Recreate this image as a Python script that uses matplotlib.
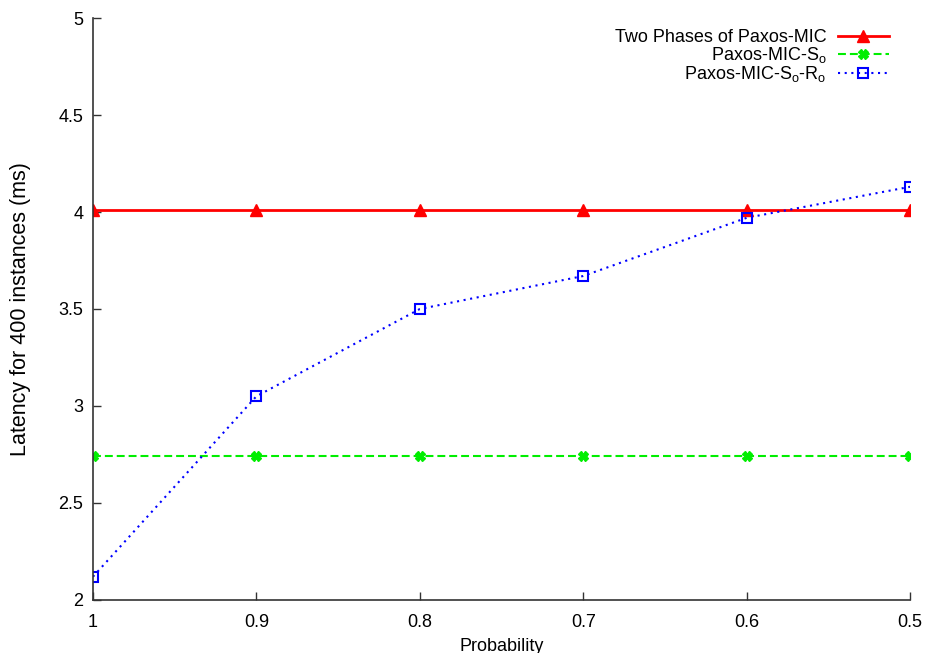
import matplotlib
matplotlib.use("Agg")
import matplotlib.pyplot as plt

plt.rcParams['font.family'] = ['Liberation Sans', 'DejaVu Sans']

prob = [1.0, 0.9, 0.8, 0.7, 0.6, 0.5]
two_phases = [4.01, 4.01, 4.01, 4.01, 4.01, 4.01]
mic_so = [2.74, 2.74, 2.74, 2.74, 2.74, 2.74]
mic_so_ro = [2.12, 3.05, 3.50, 3.67, 3.97, 4.13]
xticks = [1, 0.9, 0.8, 0.7, 0.6, 0.5]
xticklabels = ["1", "0.9", "0.8", "0.7", "0.6", "0.5"]
yticks = [2, 2.5, 3, 3.5, 4, 4.5, 5]
yticklabels = ["2", "2.5", "3", "3.5", "4", "4.5", "5"]

fig = plt.figure(figsize=(9.27, 6.53), dpi=100)
ax = fig.add_axes([0.1003, 0.0812, 0.8814, 0.8912])

ax.plot(prob, two_phases, color='#ff0000', lw=2, marker='^', ms=9,
        label='Two Phases of Paxos-MIC')
ax.plot(prob, mic_so, color='#00ee00', lw=1.5, ls=(0, (3.8, 1.9)), marker='X', ms=7,
        label='Paxos-MIC-S$_\\mathregular{o}$')
ax.plot(prob, mic_so_ro, color='#0000ff', lw=1.5, ls=(0, (1, 2.2)), marker='s', ms=7,
        mfc='none', mew=1.5,
        label='Paxos-MIC-S$_\\mathregular{o}$-R$_\\mathregular{o}$')

ax.set_xlim(1.0, 0.5)
ax.set_ylim(2, 5)
ax.set_xticks(xticks)
ax.set_xticklabels(xticklabels)
ax.set_yticks(yticks)
ax.set_yticklabels(yticklabels)
ax.spines['top'].set_visible(False)
ax.spines['right'].set_visible(False)
for s in ['left', 'bottom']:
    ax.spines[s].set_color('#333333')
    ax.spines[s].set_linewidth(1.2)
ax.tick_params(direction='in', length=6, width=1, colors='#333333', labelsize=13,
               labelcolor='black')
ax.tick_params(axis='y', pad=7)
ax.tick_params(axis='x', pad=10)
ax.set_xlabel('Probability', fontsize=13, labelpad=5)
ax.set_ylabel('Latency for 400 instances (ms)', fontsize=15.5, labelpad=20)

leg = ax.legend(loc='upper right', bbox_to_anchor=(0.987, 1.0), frameon=False,
                markerfirst=False, fontsize=13, handlelength=2.8,
                labelspacing=-0.04, borderaxespad=0.2, handletextpad=0.65)
for t in leg.get_texts():
    t.set_ha('right')
leg._legend_box.align = 'right'

fig.savefig('out.png', dpi=100)
